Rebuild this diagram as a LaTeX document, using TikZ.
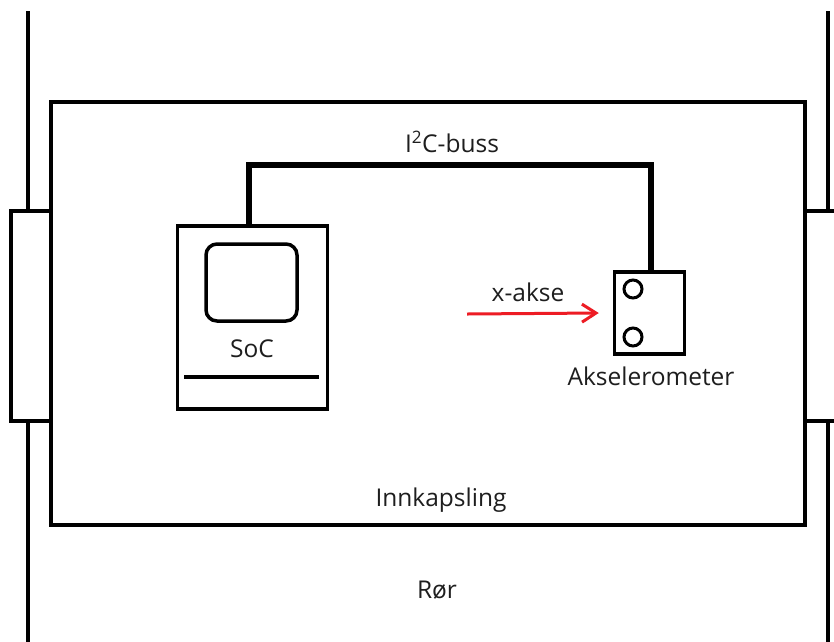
\documentclass[tikz,border=0pt]{standalone}
\usepackage{fontspec}
\setmainfont{Open Sans}
\usetikzlibrary{arrows.meta}
\definecolor{axisred}{RGB}{237,28,36}
\definecolor{txt}{RGB}{30,30,30}
\begin{document}
\begin{tikzpicture}[x=1pt,y=-1pt,
  wall/.style={draw=black,line width=3.5pt},
  box/.style={draw=black,line width=3.5pt,fill=white,inner sep=0pt},
  bus/.style={draw=black,line width=6pt},
  lbl/.style={font=\fontsize{24.5}{28}\selectfont,text=txt,inner sep=0pt},
  axis/.style={draw=axisred,line width=3pt,-{Straight Barb[length=14pt,width=18pt,line width=3pt]}}]
\useasboundingbox[fill=white] (0,0) rectangle (834,641);
% pipe walls
\draw[wall] (28,11) coordinate (lt) -- (28,211) coordinate (lf);
\draw[wall] (28,421) coordinate (lb) -- (28,645) coordinate (lbb);
\draw[wall] (828,11) coordinate (rt) -- (828,211) coordinate (rf);
\draw[wall] (828,421) coordinate (rb) -- (828,645) coordinate (rbb);
% flanges
\draw[wall] (11,211) rectangle (51,421);
\draw[wall] (805,211) rectangle (845,421);
% enclosure
\draw[wall] (51,102) rectangle (805,525);
% SoC
\node[box,minimum width=150pt,minimum height=183pt] (soc) at (252.5,317.5) {};
\draw[line width=3.5pt,rounded corners=11pt] (206,244) rectangle (297,321);
\draw[line width=3.5pt] (184,377) -- (319,377);
\node[lbl] (soct) at (252,349) {SoC};
% accelerometer
\node[box,minimum width=70pt,minimum height=82pt] (acc) at (649.5,313) {};
\draw[line width=3pt] (633,289) circle (9pt);
\draw[line width=3pt] (633,337) circle (9pt);
\node[lbl] (acct) at (651,376) {Akselerometer};
% bus
\draw[bus] ([xshift=-3.5pt]soc.north) -- ++(0,-59) coordinate (c1) -| ([xshift=1.5pt]acc.north);
\node[lbl] (bust) at (452,142) {I\textsuperscript{2}C-buss};
% x axis
\coordinate (xa) at (467,314);
\draw[axis] (xa) -- ([xshift=-14pt]acc.west);
\node[lbl] (xat) at (528,292) {x-akse};
% labels
\node[lbl] (enc) at (441,500) {Innkapsling};
\node[lbl] (pipe) at (437,590) {Rør};
\end{tikzpicture}
\end{document}
